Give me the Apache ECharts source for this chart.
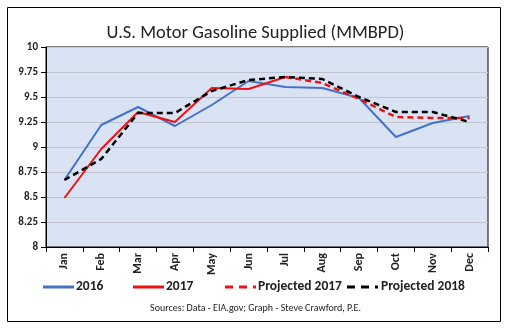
<!DOCTYPE html>
<html>
<head>
<meta charset="utf-8">
<script src="https://cdn.jsdelivr.net/npm/echarts@6/dist/echarts.min.js"></script>
<style>html,body{margin:0;padding:0;background:#fff;}#c{width:511px;height:331px;}</style>
</head>
<body>
<div id="c"></div>
<script>
const months = ['Jan','Feb','Mar','Apr','May','Jun','Jul','Aug','Sep','Oct','Nov','Dec'];
const s2016 = [8.67, 9.22, 9.40, 9.21, 9.42, 9.66, 9.60, 9.59, 9.49, 9.10, 9.24, 9.31];
const s2017 = [8.49, 8.98, 9.35, 9.25, 9.59, 9.58, 9.70, null, null, null, null, null];
const proj2017 = [null, null, null, null, null, null, 9.70, 9.64, 9.48, 9.30, 9.29, 9.29];
const proj2018 = [8.67, 8.88, 9.34, 9.34, 9.56, 9.67, 9.70, 9.68, 9.50, 9.35, 9.35, 9.25];
const yTicks = {min: 8, max: 10, step: 0.25};
const seriesNames = ['2016', '2017', 'Projected 2017', 'Projected 2018'];
const titleText = 'U.S. Motor Gasoline Supplied (MMBPD)';
const sourceText = 'Sources: Data - EIA.gov; Graph - Steve Crawford, P.E.';

const chart = echarts.init(document.getElementById('c'), null, {renderer: 'canvas'});
const font = 'Carlito, "Open Sans", "Liberation Sans", sans-serif';
const colors = ['#4472c4', '#ee1111', '#ee1111', '#000000'];
const dashes = ['solid', 'solid', [6, 4], [6, 4]];
function line(name, data, color, type, width) {
  return {
    name, type: 'line', data, symbol: 'none', showSymbol: false,
    connectNulls: false,
    lineStyle: {color, type, width},
    itemStyle: {color},
    emphasis: {disabled: true}, animation: false
  };
}
// legend drawn as graphic items
const legendX = [[43, 76], [133, 166], [225, 258], [347, 381]];
const legendY = 287;
const legendGraphics = [];
seriesNames.forEach((n, i) => {
  const [lx, tx] = legendX[i];
  legendGraphics.push({
    type: 'line', shape: {x1: lx, y1: legendY, x2: lx + 31, y2: legendY},
    style: {stroke: colors[i], lineWidth: 3, lineDash: i < 2 ? null : [8, 6]}, silent: true
  });
  legendGraphics.push({
    type: 'text', x: tx, y: legendY, style: {text: n, font: 'bold 13.5px ' + font, fill: '#222', textVerticalAlign: 'middle'}, silent: true
  });
});
chart.setOption({
  animation: false,
  backgroundColor: '#fff',
  title: {
    text: titleText, left: 'center', top: 19,
    textStyle: {fontFamily: font, fontSize: 18.5, fontWeight: 'normal', color: '#222'}
  },
  grid: {left: 46, right: 23, top: 47, bottom: 84, show: true, backgroundColor: '#dae3f3', borderColor: '#000', borderWidth: 1},
  xAxis: {
    type: 'category', data: months, boundaryGap: true,
    axisLine: {lineStyle: {color: '#000'}},
    axisTick: {show: true, length: 5, lineStyle: {color: '#000'}},
    axisLabel: {rotate: 90, color: '#222', fontFamily: font, fontSize: 12, fontWeight: 'bold', margin: 6}
  },
  yAxis: {
    type: 'value', min: yTicks.min, max: yTicks.max, interval: yTicks.step,
    axisLine: {show: true, lineStyle: {color: '#000'}},
    axisTick: {show: true, length: 5, lineStyle: {color: '#000'}},
    axisLabel: {color: '#222', fontFamily: font, fontSize: 11, fontWeight: 'bold', margin: 8},
    splitLine: {lineStyle: {color: '#c0c4cc', width: 1}}
  },
  graphic: [
    {type: 'rect', shape: {x: 7.5, y: 7.5, width: 493, height: 314}, style: {fill: 'none', stroke: '#000', lineWidth: 1}, silent: true, z: -1},
    {type: 'text', left: 'center', top: 303, style: {text: sourceText, font: '10px ' + font, fill: '#222'}}
  ].concat(legendGraphics),
  series: [
    line(seriesNames[0], s2016, colors[0], dashes[0], 2),
    line(seriesNames[1], s2017, colors[1], dashes[1], 2),
    line(seriesNames[2], proj2017, colors[2], dashes[2], 2.5),
    line(seriesNames[3], proj2018, colors[3], dashes[3], 2.5)
  ]
});
</script>
</body>
</html>
